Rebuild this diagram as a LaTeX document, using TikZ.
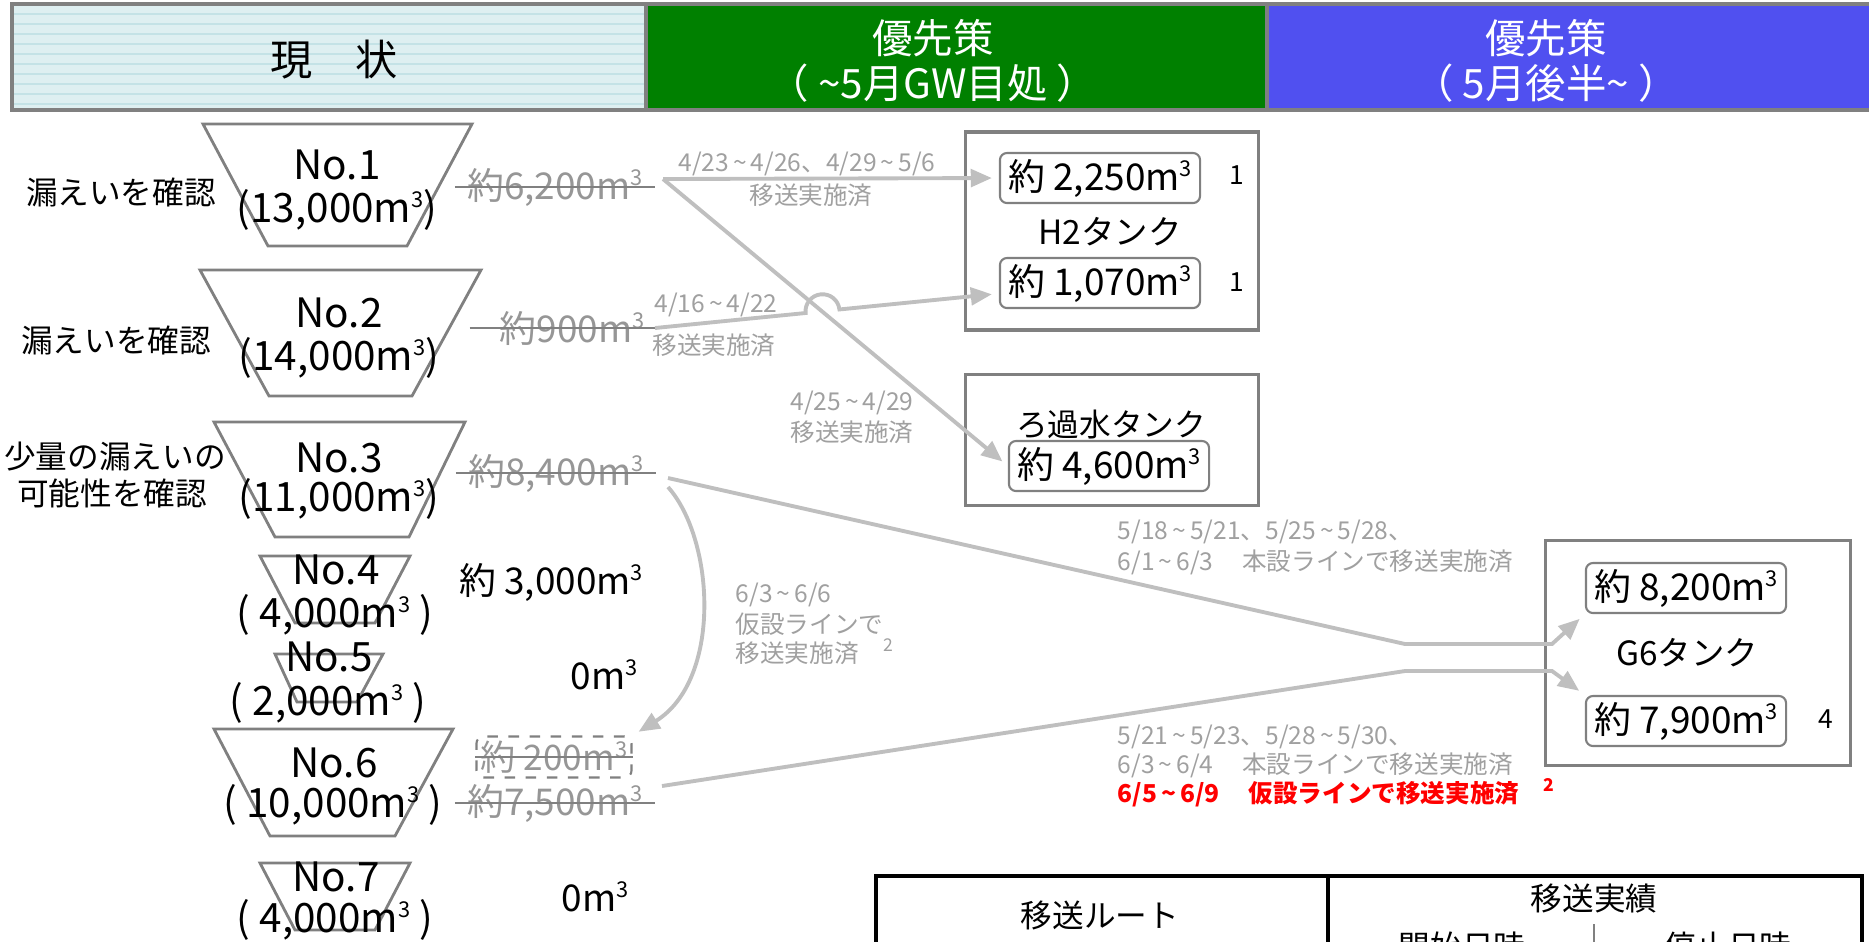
\documentclass[tikz,border=0pt]{standalone}
\usepackage{fontspec}
\setmainfont{Noto Sans CJK JP}
\usetikzlibrary{arrows.meta}

\definecolor{hdrcyan}{RGB}{222,239,241}
\definecolor{hdrrule}{RGB}{196,226,230}
\definecolor{hdrgreen}{RGB}{0,128,0}
\definecolor{hdrblue}{RGB}{80,80,240}
\definecolor{edgegray}{RGB}{128,128,128}
\definecolor{flowgray}{RGB}{191,191,191}
\definecolor{txtgray}{RGB}{160,160,160}
\definecolor{goneGray}{RGB}{150,150,150}
\definecolor{doneRed}{RGB}{255,0,0}

\newcommand{\fsz}[1]{\fontsize{#1}{#1}\selectfont}
\newcommand{\cubm}{m\raisebox{0.38em}{\fontsize{6.2pt}{6.2pt}\selectfont 3}}
\newcommand{\tld}{\,\textasciitilde\,}

\begin{document}
\begin{tikzpicture}[x=0.01cm,y=0.01cm,
  tankline/.style={draw=edgegray,line width=0.8pt},
  tankbox/.style={draw=edgegray,line width=0.9pt},
  valbox/.style={draw=edgegray,line width=0.6pt,rounded corners=2pt,inner sep=0pt,minimum width=2cm,minimum height=0.5cm,font=\fsz{10.5pt}},
  gone/.style={text=goneGray,font=\fsz{10.5pt}},
  strike/.style={draw=edgegray,line width=0.6pt},
  flow/.style={draw=flowgray,line width=1.1pt,-{Triangle[length=6pt,width=5pt]},shorten >=2pt},
  note/.style={text=txtgray,font=\fsz{7pt},inner sep=0pt},
  nolbl/.style={font=\fsz{11.5pt},inner sep=0pt},
  sidelbl/.style={font=\fsz{9pt}},
  ]
\useasboundingbox (0,0) rectangle (1869,-941);
\clip (0,0) rectangle (1869,-941);

\fill[hdrcyan] (12,-4) rectangle (646,-110);
\foreach \yy in {14,24,...,104}
  \draw[hdrrule,line width=0.3pt] (12,-\yy) -- (646,-\yy);
\fill[hdrgreen] (646,-4) rectangle (1267,-110);
\fill[hdrblue] (1267,-4) rectangle (1875,-110);
\draw[edgegray,line width=1pt] (12,-4) rectangle (1875,-110);
\draw[edgegray,line width=1pt] (646,-4) -- (646,-110);
\draw[edgegray,line width=1pt] (1267,-4) -- (1267,-110);
\node (hnow) at (334,-60) {\fsz{12pt}現　状};
\node[text=white] (hgw) at (933,-38) {\fsz{11.5pt}優先策};
\node[text=white] (hgwsub) at (933,-83) {\fsz{11.5pt}（ \textasciitilde 5月GW目処 ）};
\node[text=white] (hlate) at (1546,-38) {\fsz{11.5pt}優先策};
\node[text=white] (hlatesub) at (1546,-83) {\fsz{11.5pt}（ 5月後半\textasciitilde\ ）};

\draw[tankline] (203,-124) -- (472,-124) -- (407,-246) -- (268,-246) -- cycle;
\draw[tankline] (200,-270) -- (481,-270) -- (412,-396) -- (269,-396) -- cycle;
\draw[tankline] (214,-422) -- (465,-422) -- (409,-537) -- (275,-537) -- cycle;
\draw[tankline] (260,-556) -- (410,-556) -- (375,-623) -- (295,-623) -- cycle;
\draw[tankline] (275,-654) -- (383,-654) -- (357,-702) -- (297,-702) -- cycle;
\draw[tankline] (214,-729) -- (453,-729) -- (395,-836) -- (270,-836) -- cycle;
\draw[tankline] (260,-863) -- (410,-863) -- (375,-930) -- (295,-930) -- cycle;

\node[nolbl] (t1) at (337,-165) {No.1};
\node[nolbl] (c1) at (337,-210) {(13,000\cubm)};
\node[nolbl] (t2) at (339,-313) {No.2};
\node[nolbl] (c2) at (339,-358) {(14,000\cubm)};
\node[nolbl] (t3) at (339,-458) {No.3};
\node[nolbl] (c3) at (339,-499) {(11,000\cubm)};
\node[nolbl] (t4) at (336,-570) {No.4};
\node[nolbl] (c4) at (335,-615) {( 4,000\cubm\ )};
\node[nolbl] (t5) at (329,-657) {No.5};
\node[nolbl] (c5) at (328,-703) {( 2,000\cubm\ )};
\node[nolbl] (t6) at (334,-763) {No.6};
\node[nolbl] (c6) at (333,-805) {( 10,000\cubm\ )};
\node[nolbl] (t7) at (336,-877) {No.7};
\node[nolbl] (c7) at (335,-920) {( 4,000\cubm\ )};

\node[sidelbl] (l1) at (121,-192) {漏えいを確認};
\node[sidelbl] (l2) at (116,-340) {漏えいを確認};
\node[sidelbl] (l3a) at (115,-457) {少量の漏えいの};
\node[sidelbl] (l3b) at (112,-493) {可能性を確認};

\node[gone] (v1) at (555,-187) {約6,200\cubm};
\draw[strike] (v1.west) -- (v1.east);
\node[gone] (v2) at (572,-328) {約900\cubm};
\draw[strike] ([xshift=-5pt]v2.west) -- (v2.east);
\node[gone] (v3) at (556,-473) {約8,400\cubm};
\draw[strike] (v3.west) -- (v3.east);
\node[font=\fsz{10.5pt}] (v4) at (551,-582) {約 3,000\cubm};
\node[font=\fsz{10.5pt}] (v5) at (604,-675) {0\cubm};
\node[gone,font=\fsz{10pt},draw=edgegray,dashed,line width=0.6pt,rounded corners=2pt,minimum width=1.55cm,minimum height=0.41cm,inner sep=0pt] (d6) at (554,-757) {約 200\cubm};
\draw[strike] (d6.west) -- (d6.east);
\node[gone] (v6) at (555,-803) {約7,500\cubm};
\draw[strike] (v6.west) -- (v6.east);
\node[font=\fsz{10.5pt}] (v7) at (595,-897) {0\cubm};

\node[tankbox,minimum width=2.93cm,minimum height=1.98cm] (h2) at (1112,-231) {};
\node[valbox] (h2a) at (1100,-178) {約 2,250\cubm};
\node[font=\fsz{9.5pt}] (h2n) at (1110,-232) {H2タンク};
\node[valbox] (h2b) at (1100,-283) {約 1,070\cubm};
\node[font=\fsz{7.5pt}] (h2an) at (1237,-175) {1};
\node[font=\fsz{7.5pt}] (h2bn) at (1237,-282) {1};

\node[tankbox,minimum width=2.93cm,minimum height=1.31cm] (rk) at (1112,-440) {};
\node[font=\fsz{9pt}] (rkn) at (1111,-425) {ろ過水タンク};
\node[valbox] (rka) at (1109,-466) {約 4,600\cubm};

\node[tankbox,minimum width=3.05cm,minimum height=2.25cm] (g6) at (1698,-653) {};
\node[valbox] (g6a) at (1686,-588) {約 8,200\cubm};
\node[font=\fsz{9.5pt}] (g6n) at (1687,-653) {G6タンク};
\node[valbox] (g6b) at (1686,-721) {約 7,900\cubm};
\node[font=\fsz{7.5pt}] (g6bn) at (1826,-719) {4};

\coordinate (s1) at (663,-179);
\coordinate (s2) at (655,-328);
\coordinate (hop) at (805.6,-313);
\coordinate (s3) at (668,-478);
\coordinate (b3) at (1405,-644);
\coordinate (k3) at (1552,-644);
\coordinate (s3c) at (668,-487);
\coordinate (s6) at (662,-786);
\coordinate (b6) at (1405,-671);
\coordinate (k6) at (1552,-671);
\draw[flow] (s1) -- (h2a.west);
\draw[flow] (s1) -- (rka.west);
\draw[flow] (s2) -- (hop) arc[start angle=186,end angle=6,radius=17] -- ([yshift=-3pt]h2b.west);
\draw[flow] (s3) -- (b3) -- (k3) -- (g6a.south west);
\draw[flow] (s6) -- (b6) -- (k6) -- (g6b.north west);
\draw[flow] (s3c) .. controls (715,-540) and (722,-680) .. (d6.north east);

\node[note] (n1a) at (807,-164) {4/23\tld 4/26、4/29\tld 5/6};
\node[note] (n1b) at (811,-195) {移送実施済};
\node[note] (n2a) at (716,-305) {4/16\tld 4/22};
\node[note] (n2b) at (714,-345) {移送実施済};
\node[note] (n3a) at (852,-403) {4/25\tld 4/29};
\node[note] (n3b) at (852,-432) {移送実施済};
\node[note,anchor=west] (n4a) at (735,-595) {6/3\tld 6/6};
\node[note,anchor=west] (n4b) at (735,-624) {仮設ラインで};
\node[note,anchor=west] (n4c) at (735,-652) {移送実施済\quad\textsuperscript{2}};
\node[note,anchor=west] (n5a) at (1117,-532) {5/18\tld 5/21、5/25\tld 5/28、};
\node[note,anchor=west] (n5b) at (1117,-562) {6/1\tld 6/3\quad\,本設ラインで移送実施済};
\node[note,anchor=west] (n6a) at (1117,-737) {5/21\tld 5/23、5/28\tld 5/30、};
\node[note,anchor=west] (n6b) at (1117,-765) {6/3\tld 6/4\quad\,本設ラインで移送実施済};
\node[note,anchor=west,text=doneRed,font=\fsz{7pt}\bfseries] (n6c) at (1117,-793) {6/5\tld 6/9\quad\,仮設ラインで移送実施済\quad\textsuperscript{2}};

\draw[line width=1.3pt] (876,-876) rectangle (1862,-990);
\draw[line width=1.3pt] (1328,-876) -- (1328,-990);
\draw[edgegray,line width=0.5pt] (1594,-924) -- (1594,-990);
\node[sidelbl] (troute) at (1100,-915) {移送ルート};
\node[sidelbl] (trec) at (1594,-899) {移送実績};
\node[sidelbl] (tstart) at (1462,-946) {開始日時};
\node[sidelbl] (tstop) at (1728,-946) {停止日時};
\end{tikzpicture}
\end{document}
